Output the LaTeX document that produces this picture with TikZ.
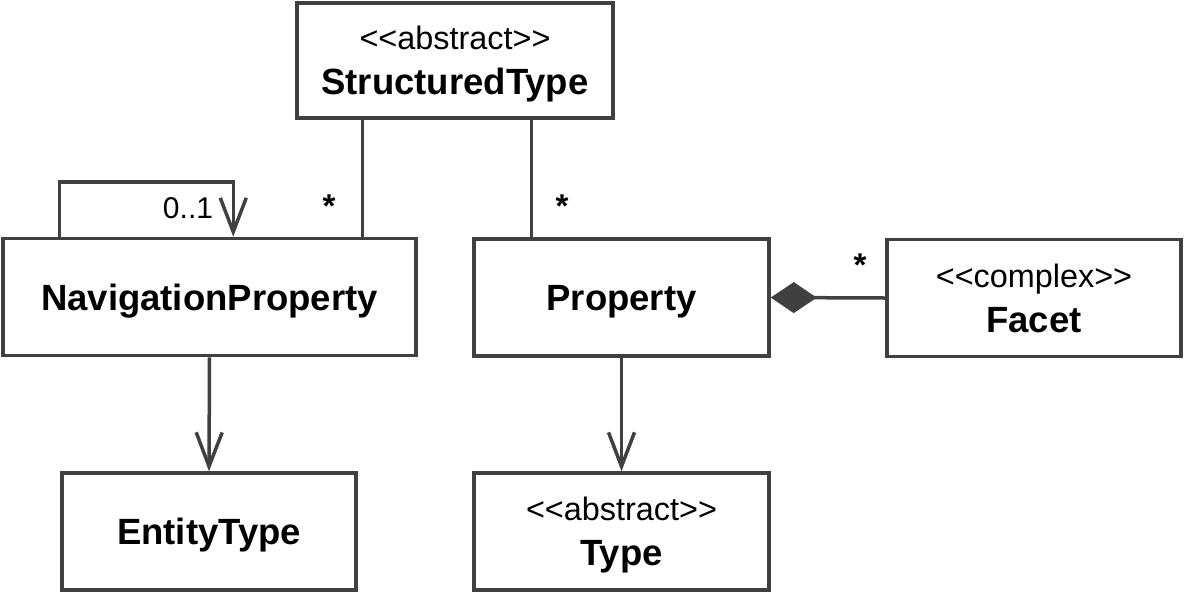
\documentclass[tikz,border=0pt]{standalone}
\usepackage{fontspec}
\setmainfont{Liberation Sans}
\usetikzlibrary{arrows.meta}
\definecolor{linegray}{HTML}{404040}
\newcommand{\stereofont}{\fontsize{32.4}{45}\selectfont}
\newcommand{\boldfont}{\fontsize{36.5}{45}\selectfont\bfseries}
\tikzset{
  umlbox/.style={draw=linegray, line width=3.5pt, fill=white, rectangle, inner sep=0pt,
    minimum height=117pt, align=center, text depth=0pt, font=\boldfont},
  assoc/.style={draw=linegray, line width=3.5pt},
  navarrow/.style={assoc, -{Straight Barb[length=34pt,width=26pt]}},
  composition/.style={assoc, -{Diamond[length=46pt,width=31pt,fill=linegray]}},
  mult/.style={font=\fontsize{30}{36}\selectfont, anchor=base, inner sep=0pt},
  star/.style={font=\fontsize{33}{36}\selectfont\bfseries, anchor=base, inner sep=0pt}
}
\begin{document}
\begin{tikzpicture}[x=1pt,y=-1pt]
\useasboundingbox (0,0) rectangle (1185,595);
\node[umlbox, minimum width=316pt, minimum height=115pt] (st) at (455,60.5)
  {{\stereofont\mdseries <{}<abstract>{}>}\\StructuredType};
\node[umlbox, minimum width=413pt] (np) at (209.5,297) {NavigationProperty};
\node[umlbox, minimum width=295pt] (pr) at (621.5,297.5) {Property};
\node[umlbox, minimum width=294pt] (fa) at (1034,298)
  {{\stereofont\mdseries <{}<complex>{}>}\\Facet};
\node[umlbox, minimum width=294pt] (et) at (209,531.5) {EntityType};
\node[umlbox, minimum width=295pt] (ty) at (621.5,531.5)
  {{\stereofont\mdseries <{}<abstract>{}>}\\Type};
% associations from StructuredType
\draw[assoc] ([xshift=67pt]st.south west) -- ([xshift=67pt]st.south west |- np.north);
\draw[assoc] ([xshift=236pt]st.south west) -- ([xshift=236pt]st.south west |- pr.north);
\node[star] (m1) at (329,217) {*};
\node[star] (m2) at (562,217) {*};
% self association
\draw[navarrow] ([xshift=58pt]np.north west) -- ++(0,-55) -| ([xshift=232pt]np.north west);
\node[mult] (m0) at (188,218) {0..1};
% navigation arrows
\draw[navarrow] (np.south) -- (et.north);
\draw[navarrow] (pr.south) -- (ty.north);
% composition
\draw[composition] (fa.west) -- (pr.east);
\node[star] (m3) at (860,276) {*};
\end{tikzpicture}
\end{document}
